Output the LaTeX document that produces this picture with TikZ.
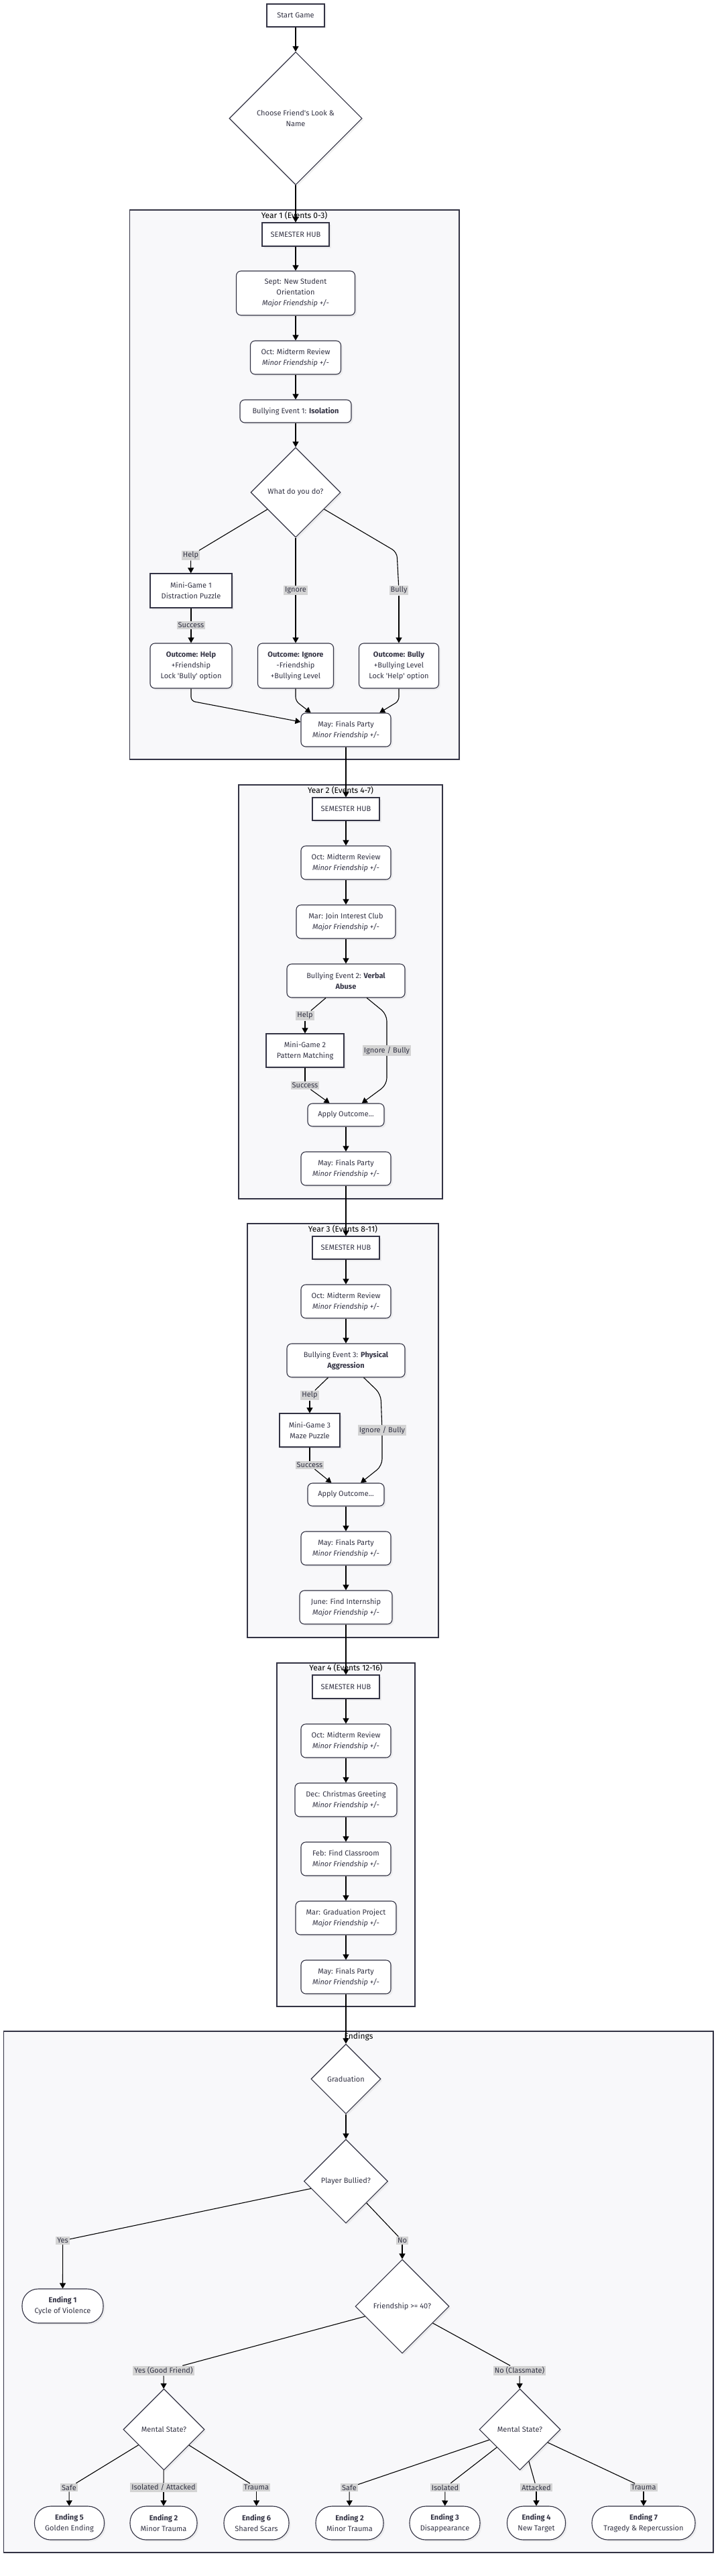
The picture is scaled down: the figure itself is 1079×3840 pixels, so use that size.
\documentclass[tikz,border=0pt]{standalone}
\usepackage{fontspec}
\setmainfont{Fira Sans}
\usetikzlibrary{shapes.geometric,arrows.meta,shadows}
\definecolor{ink}{HTML}{333344}
\definecolor{clusterbg}{HTML}{F8F8FA}
\definecolor{lblbg}{HTML}{D4D4D4}
\tikzset{
  base/.style={draw=ink, line width=1.1pt, fill=white, text=ink, align=center, inner sep=0pt,
    font=\fontsize{11}{16}\selectfont, drop shadow={opacity=0.1, shadow xshift=2.5pt, shadow yshift=-2.5pt}},
  hub/.style={base, rectangle},
  event/.style={base, rectangle, rounded corners=7pt},
  decision/.style={base, diamond, shape aspect=1},
  ending/.style={base, rectangle, rounded corners=24pt},
  lbl/.style={fill=lblbg, text=ink, inner xsep=2pt, inner ysep=2pt, font=\fontsize{11}{13}\selectfont},
  cluster/.style={draw=ink, line width=1.1pt, fill=clusterbg, drop shadow={opacity=0.06, shadow xshift=2pt, shadow yshift=-2pt}},
  ctitle/.style={text=black, font=\fontsize{12}{14}\selectfont},
  flow/.style={draw=black, line width=1.1pt},
  arr/.style={flow, -{Triangle[length=8pt,width=9pt]}},
}
\def\major{\textit{Major Friendship +/-}}
\def\minor{\textit{Minor Friendship +/-}}

\begin{document}
\begin{tikzpicture}[x=1pt,y=-1pt]
%%%%% START %%%%%
\useasboundingbox (0,0) rectangle (1079,3840);

% clusters
\draw[cluster] (193.5,313) rectangle (685,1132);
\draw[cluster] (356,1170) rectangle (660,1787);
\draw[cluster] (369,1824) rectangle (654,2441);
\draw[cluster] (413,2479) rectangle (619,2991);
\draw[cluster] (5.5,3028) rectangle (1064,3805);
\node[ctitle] (title1) at (439,321) {Year 1 (Events 0-3)};
\node[ctitle] (title2) at (508,1178) {Year 2 (Events 4-7)};
\node[ctitle] (title3) at (511.5,1832) {Year 3 (Events 8-11)};
\node[ctitle] (title4) at (516,2486) {Year 4 (Events 12-16)};
\node[ctitle] (title5) at (535,3036) {Endings};

% start
\node[hub, minimum width=86pt, minimum height=34pt] (start) at (441,23) {Start Game};
\node[decision, minimum width=198pt, minimum height=198pt] (look) at (441,176.5) {Choose Friend\textquotesingle s Look \&\\Name};

% year 1
\node[hub, minimum width=100pt, minimum height=35pt] (hub1) at (441,349.5) {SEMESTER HUB};
\node[event, minimum width=177pt, minimum height=66pt] (sept1) at (441,437) {Sept: New Student\\Orientation\\\major};
\node[event, minimum width=135pt, minimum height=50pt] (oct1) at (441,533) {Oct: Midterm Review\\\minor};
\node[event, minimum width=166pt, minimum height=34pt] (bully1) at (441,613) {Bullying Event 1: \textbf{Isolation}};
\node[decision, minimum width=134pt, minimum height=134pt] (act1) at (441,734) {What do you do?};
\node[hub, minimum width=122pt, minimum height=51pt] (game1) at (285,880.5) {Mini-Game 1\\Distraction Puzzle};
\node[event, minimum width=122pt, minimum height=67pt] (help1) at (285,992.5) {\textbf{Outcome: Help}\\+Friendship\\Lock \textquotesingle Bully\textquotesingle\ option};
\node[event, minimum width=113pt, minimum height=67pt] (ign1) at (441,992.5) {\textbf{Outcome: Ignore}\\-Friendship\\+Bullying Level};
\node[event, minimum width=119pt, minimum height=67pt] (bul1) at (595,992.5) {\textbf{Outcome: Bully}\\+Bullying Level\\Lock \textquotesingle Help\textquotesingle\ option};
\node[event, minimum width=134pt, minimum height=50pt] (may1) at (516,1088) {May: Finals Party\\\minor};
\node[lbl] (l1help) at (284.5,828) {Help};
\node[lbl] (l1ign) at (441,880) {Ignore};
\node[lbl] (l1bully) at (595,880) {Bully};
\node[lbl] (l1succ) at (285,932) {Success};

% year 2
\node[hub, minimum width=100pt, minimum height=34pt] (hub2) at (516,1206) {SEMESTER HUB};
\node[event, minimum width=134pt, minimum height=50pt] (oct2) at (516,1286) {Oct: Midterm Review\\\minor};
\node[event, minimum width=148pt, minimum height=50pt] (mar2) at (516,1374) {Mar: Join Interest Club\\\major};
\node[event, minimum width=176pt, minimum height=50pt] (bully2) at (516,1462) {Bullying Event 2: \textbf{Verbal}\\\textbf{Abuse}};
\node[hub, minimum width=116pt, minimum height=50pt] (game2) at (455,1566) {Mini-Game 2\\Pattern Matching};
\node[event, minimum width=114pt, minimum height=34pt] (apply2) at (516,1662) {Apply Outcome...};
\node[event, minimum width=134pt, minimum height=50pt] (may2) at (516,1742) {May: Finals Party\\\minor};
\node[lbl] (l2help) at (455,1514) {Help};
\node[lbl] (l2ib) at (577,1566) {Ignore / Bully};
\node[lbl] (l2succ) at (455,1618) {Success};

% year 3
\node[hub, minimum width=100pt, minimum height=34pt] (hub3) at (516,1860) {SEMESTER HUB};
\node[event, minimum width=134pt, minimum height=50pt] (oct3) at (516,1940) {Oct: Midterm Review\\\minor};
\node[event, minimum width=176pt, minimum height=50pt] (bully3) at (516,2028) {Bullying Event 3: \textbf{Physical}\\\textbf{Aggression}};
\node[hub, minimum width=90pt, minimum height=50pt] (game3) at (462,2132) {Mini-Game 3\\Maze Puzzle};
\node[event, minimum width=114pt, minimum height=34pt] (apply3) at (516,2228) {Apply Outcome...};
\node[event, minimum width=134pt, minimum height=50pt] (may3) at (516,2308) {May: Finals Party\\\minor};
\node[event, minimum width=138pt, minimum height=50pt] (june3) at (516,2396) {June: Find Internship\\\major};
\node[lbl] (l3help) at (462,2080) {Help};
\node[lbl] (l3ib) at (570,2132) {Ignore / Bully};
\node[lbl] (l3succ) at (462,2184) {Success};

% year 4
\node[hub, minimum width=100pt, minimum height=35pt] (hub4) at (516,2514.5) {SEMESTER HUB};
\node[event, minimum width=134pt, minimum height=50pt] (oct4) at (516,2595) {Oct: Midterm Review\\\minor};
\node[event, minimum width=152pt, minimum height=50pt] (dec4) at (516,2683) {Dec: Christmas Greeting\\\minor};
\node[event, minimum width=134pt, minimum height=50pt] (feb4) at (516,2771) {Feb: Find Classroom\\\minor};
\node[event, minimum width=150pt, minimum height=50pt] (mar4) at (516,2859) {Mar: Graduation Project\\\major};
\node[event, minimum width=134pt, minimum height=50pt] (may4) at (516,2947) {May: Finals Party\\\minor};

% endings
\node[decision, minimum width=104pt, minimum height=104pt] (grad) at (516,3099) {Graduation};
\node[decision, minimum width=125pt, minimum height=125pt] (pb) at (516,3251.5) {Player Bullied?};
\node[ending, minimum width=121pt, minimum height=51pt] (e1) at (93.5,3437.5) {\textbf{Ending 1}\\Cycle of Violence};
\node[decision, minimum width=140pt, minimum height=140pt] (fr) at (600,3438) {Friendship >= 40?};
\node[decision, minimum width=121pt, minimum height=121pt] (ms1) at (244.5,3621.5) {Mental State?};
\node[decision, minimum width=121pt, minimum height=121pt] (ms2) at (775.5,3621.5) {Mental State?};
\node[ending, minimum width=104pt, minimum height=50pt] (e5) at (103.5,3761) {\textbf{Ending 5}\\Golden Ending};
\node[ending, minimum width=100pt, minimum height=50pt] (e2a) at (244,3761) {\textbf{Ending 2}\\Minor Trauma};
\node[ending, minimum width=97pt, minimum height=50pt] (e6) at (382.5,3761) {\textbf{Ending 6}\\Shared Scars};
\node[ending, minimum width=101pt, minimum height=50pt] (e2b) at (521.5,3761) {\textbf{Ending 2}\\Minor Trauma};
\node[ending, minimum width=105pt, minimum height=50pt] (e3) at (663.5,3761) {\textbf{Ending 3}\\Disappearance};
\node[ending, minimum width=87pt, minimum height=50pt] (e4) at (800,3761) {\textbf{Ending 4}\\New Target};
\node[ending, minimum width=154pt, minimum height=50pt] (e7) at (960,3761) {\textbf{Ending 7}\\Tragedy \& Repercussion};
\node[lbl] (lyes) at (93.6,3340) {Yes};
\node[lbl] (lno) at (600,3340) {No};
\node[lbl] (lgood) at (244,3534) {Yes (Good Friend)};
\node[lbl] (lclass) at (775,3534) {No (Classmate)};
\node[lbl] (lsafe1) at (103,3708) {Safe};
\node[lbl] (lisoatt) at (244,3708) {Isolated / Attacked};
\node[lbl] (ltrauma1) at (382.5,3708) {Trauma};
\node[lbl] (lsafe2) at (521,3708) {Safe};
\node[lbl] (liso) at (664,3708) {Isolated};
\node[lbl] (latt) at (800,3708) {Attacked};
\node[lbl] (ltrauma2) at (960,3708) {Trauma};

% connectors
\draw[arr] (start) -- (look);
\draw[arr] (look) -- (hub1);
\draw[arr] (hub1) -- (sept1);
\draw[arr] (sept1) -- (oct1);
\draw[arr] (oct1) -- (bully1);
\draw[arr] (bully1) -- (act1);
\draw[flow] (act1) -- (l1help);
\draw[arr] (l1help) -- (game1);
\draw[flow] (act1) -- (l1ign);
\draw[arr] (l1ign) -- (ign1);
\draw[flow, rounded corners=8pt] (act1) -- (592,823) -- (l1bully);
\draw[arr] (l1bully) -- (bul1);
\draw[flow] (game1) -- (l1succ);
\draw[arr] (l1succ) -- (help1);
\draw[arr, rounded corners=6pt] (help1) -- (285,1045) -- (may1.170);
\draw[arr, rounded corners=6pt] (ign1) -- (441,1045) -- (may1.154);
\draw[arr, rounded corners=6pt] (bul1) -- (595,1045) -- (may1.27);
\draw[arr] (may1) -- (hub2);

\draw[arr] (hub2) -- (oct2);
\draw[arr] (oct2) -- (mar2);
\draw[arr] (mar2) -- (bully2);
\draw[flow] (bully2) -- (l2help);
\draw[arr] (l2help) -- (game2);
\draw[flow] (game2) -- (l2succ);
\draw[arr] (l2succ) -- (apply2);
\draw[flow, rounded corners=10pt] (bully2) -- (577,1512) -- (l2ib);
\draw[arr, rounded corners=10pt] (l2ib) -- (577,1617) -- (apply2);
\draw[arr] (apply2) -- (may2);
\draw[arr] (may2) -- (hub3);

\draw[arr] (hub3) -- (oct3);
\draw[arr] (oct3) -- (bully3);
\draw[flow] (bully3) -- (l3help);
\draw[arr] (l3help) -- (game3);
\draw[flow] (game3) -- (l3succ);
\draw[arr] (l3succ) -- (apply3);
\draw[flow, rounded corners=10pt] (bully3) -- (568,2078) -- (l3ib);
\draw[arr, rounded corners=10pt] (l3ib) -- (570,2185) -- (apply3);
\draw[arr] (apply3) -- (may3);
\draw[arr] (may3) -- (june3);
\draw[arr] (june3) -- (hub4);

\draw[arr] (hub4) -- (oct4);
\draw[arr] (oct4) -- (dec4);
\draw[arr] (dec4) -- (feb4);
\draw[arr] (feb4) -- (mar4);
\draw[arr] (mar4) -- (may4);
\draw[arr] (may4) -- (grad);

\draw[arr] (grad) -- (pb);
\draw[flow] (pb) -- (lyes);
\draw[arr] (lyes) -- (e1);
\draw[flow] (pb) -- (lno);
\draw[arr] (lno) -- (fr);
\draw[flow] (fr) -- (lgood);
\draw[arr] (lgood) -- (ms1);
\draw[flow] (fr) -- (lclass);
\draw[arr] (lclass) -- (ms2);
\draw[flow] (ms1) -- (lsafe1);
\draw[arr] (lsafe1) -- (e5);
\draw[flow] (ms1) -- (lisoatt);
\draw[arr] (lisoatt) -- (e2a);
\draw[flow] (ms1) -- (ltrauma1);
\draw[arr] (ltrauma1) -- (e6);
\draw[flow] (ms2) -- (lsafe2);
\draw[arr] (lsafe2) -- (e2b);
\draw[flow] (ms2) -- (liso);
\draw[arr] (liso) -- (e3);
\draw[flow] (ms2) -- (latt);
\draw[arr] (latt) -- (e4);
\draw[flow] (ms2) -- (ltrauma2);
\draw[arr] (ltrauma2) -- (e7);

%%%%% END %%%%%
\end{tikzpicture}
\end{document}
